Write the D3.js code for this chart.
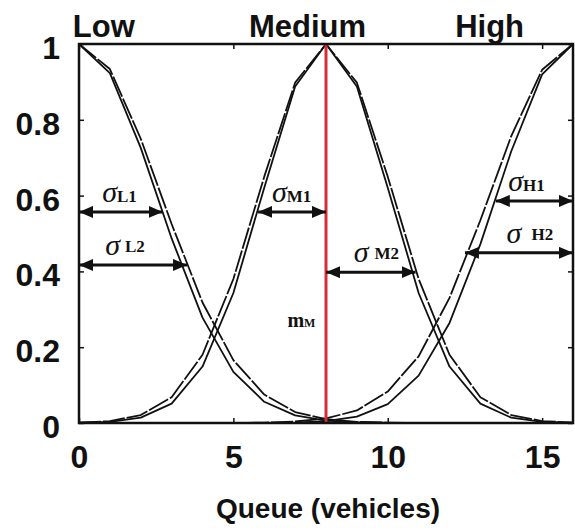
<!DOCTYPE html>
<html>
<head>
<meta charset="utf-8">
<script src="https://cdn.jsdelivr.net/npm/d3@7"></script>
<style>
body { margin: 0; background: #fff; }
svg text { font-family: "Liberation Sans", Arial, sans-serif; font-weight: bold; fill: #111; }
.greek { font-family: "Liberation Serif", "Times New Roman", serif; }
</style>
</head>
<body>
<svg id="chart"></svg>
<script>
// queue length (vehicles)
var queue = [0, 1, 2, 3, 4, 5, 6, 7, 8, 9, 10, 11, 12, 13, 14, 15, 16];

// membership values, two curves per set
var low1  = [1, 0.923, 0.726, 0.487, 0.278, 0.135, 0.056, 0.020, 0.006, 0.002, 0, 0, 0, 0, 0, 0, 0];
var low2  = [1, 0.934, 0.750, 0.525, 0.318, 0.166, 0.075, 0.029, 0.010, 0.003, 0.001, 0, 0, 0, 0, 0, 0];
var med1  = [0.001, 0.003, 0.014, 0.051, 0.149, 0.343, 0.621, 0.888, 1, 0.888, 0.621, 0.343, 0.149, 0.051, 0.014, 0.003, 0.001];
var med2  = [0.001, 0.005, 0.021, 0.068, 0.180, 0.380, 0.650, 0.898, 1, 0.898, 0.650, 0.380, 0.180, 0.068, 0.021, 0.005, 0.001];
var high1 = [0, 0, 0, 0, 0, 0, 0, 0.001, 0.005, 0.017, 0.050, 0.125, 0.264, 0.472, 0.717, 0.920, 1];
var high2 = [0, 0, 0, 0, 0, 0, 0.001, 0.004, 0.012, 0.033, 0.083, 0.176, 0.330, 0.535, 0.757, 0.932, 1];

var setNames = ["Low", "Medium", "High"];
var setLabelX = [-0.2, 7.4, 13.3];

// sigma arrows (queue from -> to, at membership level)
var sigmaNames = ["L1", "L2", "M1", "M2", "H1", "H2"];
var sigmaLevel = [0.557, 0.417, 0.557, 0.398, 0.586, 0.449];
var sigmaFrom  = [0, 0, 5.8, 8, 13.5, 12.5];
var sigmaTo    = [2.71, 3.5, 8, 10.9, 16, 16];

var centreM = 8;
var xTicks = [0, 5, 10, 15];
var yTicks = [0, 0.2, 0.4, 0.6, 0.8, 1];

var W = 575, H = 530;
var margin = {top: 44, right: 2, bottom: 107, left: 79};
var w = W - margin.left - margin.right, h = H - margin.top - margin.bottom;

var svg = d3.select("#chart").attr("width", W).attr("height", H);

svg.append("defs").append("marker")
    .attr("id", "head")
    .attr("viewBox", "0 0 14 12")
    .attr("refX", 14).attr("refY", 6)
    .attr("markerWidth", 14).attr("markerHeight", 12)
    .attr("markerUnits", "userSpaceOnUse")
    .attr("orient", "auto-start-reverse")
    .append("path").attr("d", "M0,0 L14,6 L0,12 Z").attr("fill", "#111");

var g = svg.append("g").attr("transform", "translate(" + margin.left + "," + margin.top + ")");

var x = d3.scaleLinear().domain([0, 16]).range([0, w]);
var y = d3.scaleLinear().domain([0, 1]).range([h, 0]);

// axes, ticks pointing inward
var ax = g.append("g").attr("transform", "translate(0," + h + ")")
    .call(d3.axisBottom(x).tickValues(xTicks).tickSize(-5).tickPadding(22).tickFormat(d3.format("d")));
var axTop = g.append("g").call(d3.axisTop(x).tickValues(xTicks).tickSize(-5).tickFormat(""));
var ay = g.append("g").call(d3.axisLeft(y).tickValues(yTicks).tickSize(-5).tickPadding(19).tickFormat(d3.format("~g")));
var ayR = g.append("g").attr("transform", "translate(" + w + ",0)")
    .call(d3.axisRight(y).tickValues(yTicks).tickSize(-5).tickFormat(""));

[ax, axTop, ay, ayR].forEach(function(a) {
  a.select(".domain").remove();
  a.selectAll(".tick line").attr("stroke", "#111").attr("stroke-width", 1.5);
});
ax.selectAll(".tick text").attr("font-size", 32).attr("dy", "0.71em");
ay.selectAll(".tick text").attr("font-size", 32).attr("dy", "0.45em");

// curves
var line = d3.line()
    .x(function(d, i) { return x(queue[i]); })
    .y(function(d) { return y(d); });

var curves = [low1, low2, med1, med2, high1, high2];
g.selectAll(".curve")
    .data(curves)
    .enter().append("path")
    .attr("class", "curve")
    .attr("d", line)
    .attr("fill", "none")
    .attr("stroke", "#111")
    .attr("stroke-width", 1.8)
    .attr("stroke-linejoin", "round")
    .attr("stroke-dasharray", function(d, i) { return i % 2 ? "22,2" : null; });

// centre of medium
g.append("line")
    .attr("x1", x(centreM)).attr("x2", x(centreM))
    .attr("y1", y(0)).attr("y2", y(1))
    .attr("stroke", "#d42d35").attr("stroke-width", 3);

// frame
g.append("rect").attr("width", w).attr("height", h)
    .attr("fill", "none").attr("stroke", "#111").attr("stroke-width", 2.5);

// sigma arrows
var labelX = [0.75, 0.85, 6.25, 8.9, 13.9, 13.85];
var labelGap = [0, 5, 0, 6, 0, 10];
sigmaNames.forEach(function(n, i) {
  g.append("line")
      .attr("x1", x(sigmaFrom[i])).attr("x2", x(sigmaTo[i]))
      .attr("y1", y(sigmaLevel[i])).attr("y2", y(sigmaLevel[i]))
      .attr("stroke", "#111").attr("stroke-width", 3)
      .attr("marker-start", "url(#head)").attr("marker-end", "url(#head)");
  var t = g.append("text").attr("class", "greek")
      .attr("x", x(labelX[i])).attr("y", y(sigmaLevel[i]) - 10);
  t.append("tspan").attr("font-size", 30).attr("font-style", "italic").attr("font-weight", "normal").text("σ");
  t.append("tspan").attr("font-size", 17).attr("dx", labelGap[i]).attr("dy", i % 2 ? -3 : 0).text(n);
});

// m_M label
var mm = g.append("text").attr("class", "greek").attr("x", x(6.75)).attr("y", y(0.253));
mm.append("tspan").attr("font-size", 20).text("m");
mm.append("tspan").attr("font-size", 12).text("M");

// set names above the plot
svg.selectAll(".setname")
    .data(setNames)
    .enter().append("text")
    .attr("class", "setname")
    .attr("x", function(d, i) { return margin.left + x(setLabelX[i]); })
    .attr("y", 37)
    .attr("text-anchor", function(d, i) { return i ? "middle" : "start"; })
    .attr("font-size", 31)
    .text(function(d) { return d; });

svg.append("text")
    .attr("x", margin.left + w / 2 + 2)
    .attr("y", 518)
    .attr("text-anchor", "middle")
    .attr("font-size", 28)
    .text("Queue (vehicles)");
</script>
</body>
</html>
